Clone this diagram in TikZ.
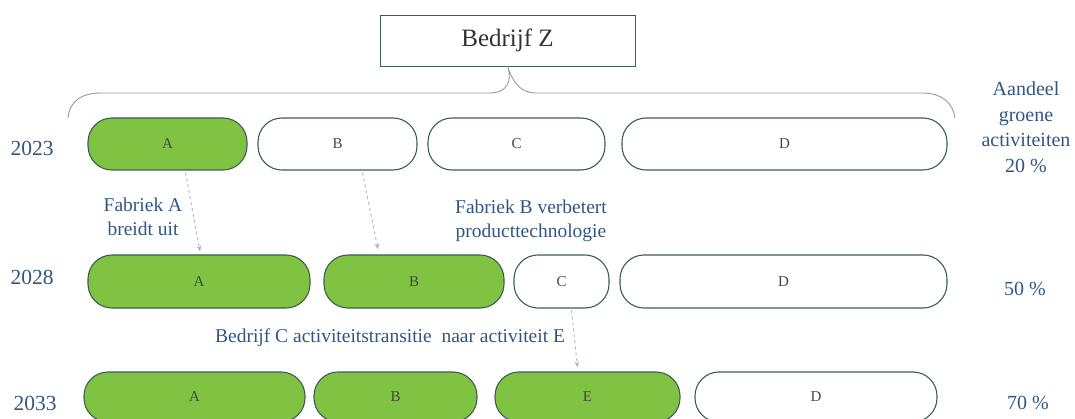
\documentclass[tikz,border=0pt]{standalone}
\usepackage{fontspec}
\setmainfont{Liberation Serif}
\usetikzlibrary{calc,arrows.meta}
\definecolor{leaf}{HTML}{80C342}
\definecolor{edge}{HTML}{3A5E55}
\definecolor{ink}{HTML}{2F5684}
\definecolor{boxtxt}{HTML}{404A44}
\definecolor{arr}{HTML}{A9B6C4}
\tikzset{
  pill/.style={draw=edge, line width=1.1pt, rounded corners=24pt, inner sep=0pt,
    font=\fontsize{15}{17}\selectfont, text=boxtxt},
  gpill/.style={pill, fill=leaf},
  wpill/.style={pill, fill=white},
  yr/.style={text=ink, font=\fontsize{21.5}{24}\selectfont},
  note/.style={text=ink, align=center},
  trans/.style={draw=arr, dashed, line width=0.9pt, -{Stealth[open,length=6pt,width=5pt]}},
}
\begin{document}
\begin{tikzpicture}[x=1pt,y=-1pt]
\useasboundingbox (0,0) rectangle (1075,419);
% title box
\node[draw=edge, line width=0.8pt, minimum width=255pt, minimum height=51pt, inner sep=0pt,
  font=\fontsize{25}{28}\selectfont, text=black!80] (z) at (507.5,40.5) {Bedrijf Z};
% brace
\draw[gray!80, line width=0.9pt] (68,118) .. controls (70,100) and (82,93) .. (102,93)
  -- (490,93) .. controls (506,93) and (513,82) .. (z.south)
  .. controls (513,82) and (520,93) .. (536,93)
  -- (922,93) .. controls (942,93) and (953,103) .. (955,118);
% row 2023
\node[gpill, minimum width=159pt, minimum height=52pt] (a1) at (167.5,144) {A};
\node[wpill, minimum width=159pt, minimum height=52pt] (b1) at (337.5,144) {B};
\node[wpill, minimum width=177pt, minimum height=52pt] (c1) at (516.5,144) {C};
\node[wpill, minimum width=325pt, minimum height=52pt] (d1) at (784.5,144) {D};
% row 2028
\node[gpill, minimum width=222pt, minimum height=53pt] (a2) at (199,281.5) {A};
\node[gpill, minimum width=180pt, minimum height=53pt] (b2) at (414,281.5) {B};
\node[wpill, minimum width=95pt, minimum height=53pt] (c2) at (561.5,281.5) {C};
\node[wpill, minimum width=327pt, minimum height=53pt] (d2) at (783.5,281.5) {D};
% row 2033
\node[gpill, minimum width=221pt, minimum height=50pt] (a3) at (194.5,397) {A};
\node[gpill, minimum width=163pt, minimum height=50pt] (b3) at (395.5,397) {B};
\node[gpill, minimum width=185pt, minimum height=50pt] (e3) at (587.5,397) {E};
\node[wpill, minimum width=242pt, minimum height=50pt] (d3) at (816,397) {D};
% years
\node[yr] (y1) at (32,148) {2023};
\node[yr] (y2) at (32,277) {2028};
\node[yr] (y3) at (35,403) {2033};
% shares
\node[note, font=\fontsize{20}{25.5}\selectfont] (s1) at (1026,127) {Aandeel\\groene\\activiteiten\\20 \%};
\node[note, font=\fontsize{20}{24}\selectfont] (s2) at (1025,289) {50 \%};
\node[note, font=\fontsize{20}{24}\selectfont] (s3) at (1028,403) {70 \%};
% notes
\node[note, font=\fontsize{19.5}{24}\selectfont] (n1) at (143,217) {Fabriek A\\breidt uit};
\node[note, font=\fontsize{19.5}{24}\selectfont] (n2) at (531,221) {Fabriek B verbetert\\producttechnologie};
\node[note, font=\fontsize{19.5}{24}\selectfont] (n3) at (390,338) {Bedrijf C activiteitstransitie\ \ naar activiteit E};
% transitions
\draw[trans] ($(a1.south)+(18,2)$) -- ($(a2.north)+(1,-3)$);
\draw[trans] ($(b1.south)+(25,2)$) -- ($(b2.north)+(-36,-5)$);
\draw[trans] ($(c2.south)+(10,2)$) -- ($(e3.north)+(-10,-4)$);
\end{tikzpicture}
\end{document}
